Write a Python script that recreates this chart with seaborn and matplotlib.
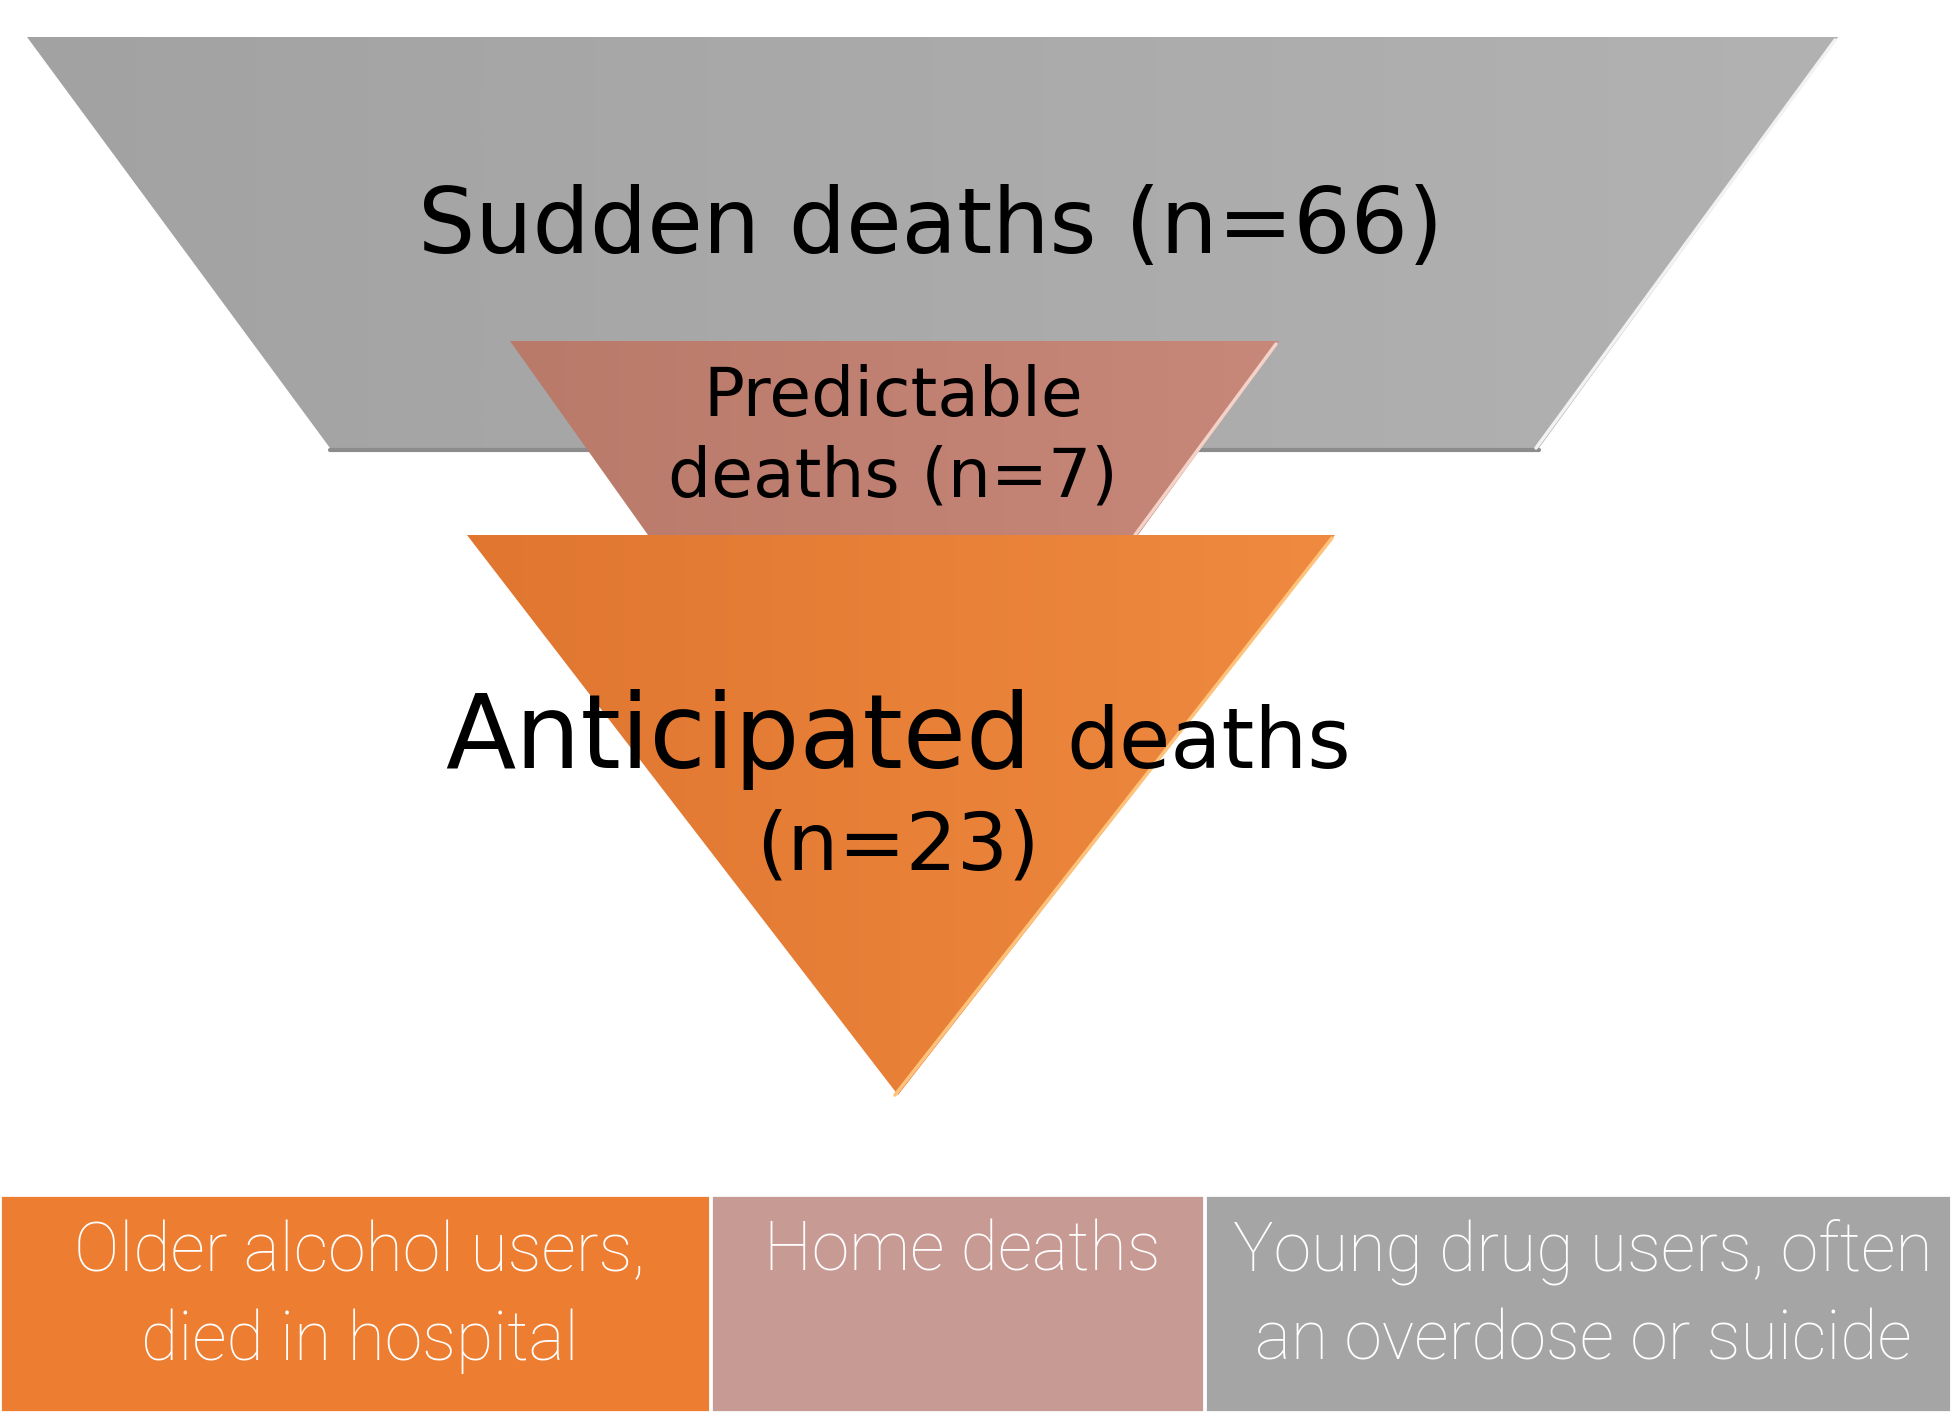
import numpy as np
import matplotlib
matplotlib.use("Agg")
import matplotlib.pyplot as plt
from matplotlib.patches import Polygon
import seaborn as sns

# funnel stages (top to bottom)
stage_names = ["Sudden deaths", "Predictable deaths", "Anticipated deaths"]
stage_counts = [66, 7, 23]

# bottom legend boxes
group_labels = [["Older alcohol users,", "died in hospital"],
                ["Home deaths"],
                ["Young drug users, often", "an overdose or suicide"]]
group_colors = ["#ed7d31", "#c79a94", "#a5a5a5"]


def grad_poly(ax, pts, c_left, c_right, z, edge_light=None):
    poly = Polygon(pts, closed=True, facecolor="none", edgecolor="none", zorder=z)
    ax.add_patch(poly)
    xs = [p[0] for p in pts]
    ys = [p[1] for p in pts]
    c1 = np.array(matplotlib.colors.to_rgb(c_left))
    c2 = np.array(matplotlib.colors.to_rgb(c_right))
    t = np.linspace(0, 1, 256)[None, :, None]
    img = c1 + (c2 - c1) * t
    im = ax.imshow(img, extent=(min(xs), max(xs), max(ys), min(ys)),
                   aspect="auto", interpolation="bilinear", zorder=z)
    im.set_clip_path(poly)
    if edge_light is not None:
        # bevel highlight on the right edge
        ax.plot([pts[1][0] - 3, pts[2][0] - 3], [pts[1][1] + 3, pts[2][1]],
                color=edge_light, lw=2.5, solid_capstyle="round", zorder=z + 0.1)
    return poly


def main():
    sns.set_theme(style="white")
    plt.rcParams["font.family"] = ["DejaVu Sans"]

    fig = plt.figure(figsize=(19.51, 14.12), dpi=100)
    ax = fig.add_axes([0, 0, 1, 1])
    ax.set_xlim(0, 1951)
    ax.set_ylim(1412, 0)
    ax.axis("off")

    # gray stage
    grad_poly(ax, [(27, 37), (1838, 37), (1539, 448), (330, 448)],
              "#a2a2a2", "#b2b2b2", 1, edge_light="#f2f2f2")
    ax.plot([330, 1539], [450, 450], color="#8c8c8c", lw=3, zorder=1.05)
    # pink stage
    grad_poly(ax, [(510, 341), (1279, 341), (1138, 535), (648, 535)],
              "#b97a6a", "#c7887a", 2, edge_light="#f4d2c8")
    # orange stage
    grad_poly(ax, [(467, 535), (1335, 535), (898, 1095)],
              "#e07630", "#f08a40", 3, edge_light="#ffc27a")

    ax.text(931, 228, f"{stage_names[0]} (n={stage_counts[0]})", ha="center", va="center",
            fontsize=65, color="black", zorder=5)
    ax.text(893, 437, f"Predictable\ndeaths (n={stage_counts[1]})",
            ha="center", va="center", fontsize=49, color="black",
            linespacing=1.28, zorder=5)
    ax.text(1031, 768, "Anticipated", ha="right", va="baseline", fontsize=74,
            color="black", zorder=5)
    ax.text(1066, 768, "deaths", ha="left", va="baseline", fontsize=60,
            color="black", zorder=5)
    ax.text(898, 848, f"(n={stage_counts[2]})", ha="center", va="center",
            fontsize=58, color="black", zorder=5)

    # bottom boxes
    lefts = [0, 711, 1205]
    widths = [710, 493, 746]
    ax.bar(lefts, [217] * 3, width=widths, bottom=1195, align="edge",
           color=group_colors, edgecolor="white", linewidth=2, zorder=2)
    centers = [l + w / 2 for l, w in zip(lefts, widths)]
    for cx, lines in zip(centers, group_labels):
        for i, line in enumerate(lines):
            ax.text(cx + 5, 1252 + i * 89, line, ha="center", va="center", fontsize=49,
                    color="white", family=["Roboto", "DejaVu Sans"],
                    fontweight="light", zorder=5)

    fig.savefig("out.png", dpi=100)


if __name__ == "__main__":
    main()
